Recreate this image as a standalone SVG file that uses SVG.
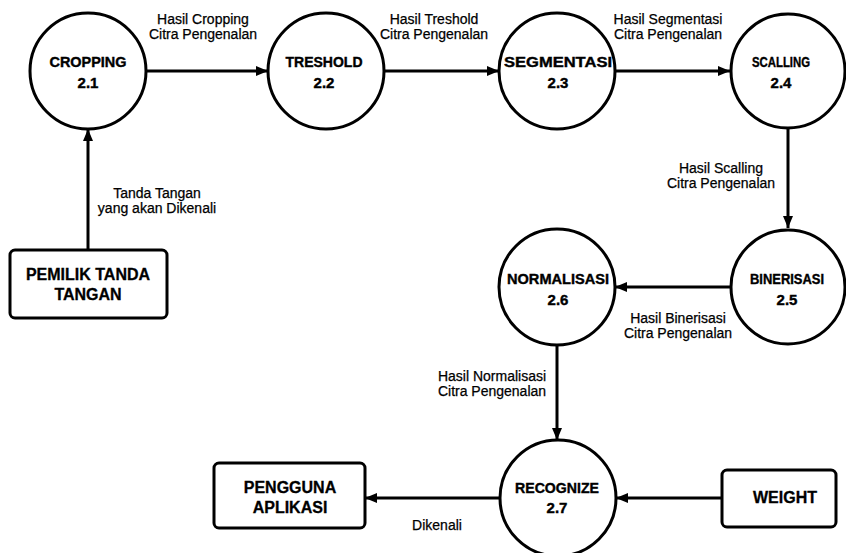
<svg xmlns="http://www.w3.org/2000/svg" width="846" height="553" viewBox="0 0 846 553">
  <style>
    .proc { fill: #fff; stroke: #000; stroke-width: 3; }
    .ent { fill: #fff; stroke: #000; stroke-width: 3; }
    .flow { fill: none; stroke: #000; stroke-width: 3; }
    .pt { font-family: "Liberation Sans", Arial, sans-serif; font-weight: bold; font-size: 15px; text-anchor: middle; fill: #000; stroke: #000; stroke-width: 0.4; }
    .et { font-family: "Liberation Sans", Arial, sans-serif; font-weight: bold; font-size: 16px; text-anchor: middle; fill: #000; stroke: #000; stroke-width: 0.3; }
    .lt { font-family: "Liberation Sans", Arial, sans-serif; font-size: 14px; text-anchor: middle; fill: #000; stroke: #000; stroke-width: 0.25; }
  </style>
  <defs>
    <marker id="arrow" viewBox="0 0 12 10" refX="12" refY="5" markerWidth="12" markerHeight="10" markerUnits="userSpaceOnUse" orient="auto">
      <path d="M0,0 L12,5 L0,10 Z" fill="#000"/>
    </marker>
  </defs>
  <rect width="846" height="553" fill="#fff"/>

  <!-- data flows -->
  <g id="connectors">
    <line class="flow" x1="146" y1="71" x2="268" y2="71" marker-end="url(#arrow)"/>
    <line class="flow" x1="384" y1="71" x2="499" y2="71" marker-end="url(#arrow)"/>
    <line class="flow" x1="615" y1="71" x2="730" y2="71" marker-end="url(#arrow)"/>
    <line class="flow" x1="788" y1="129" x2="788" y2="228" marker-end="url(#arrow)"/>
    <line class="flow" x1="730" y1="287" x2="615" y2="287" marker-end="url(#arrow)"/>
    <line class="flow" x1="557" y1="345" x2="557" y2="440" marker-end="url(#arrow)"/>
    <line class="flow" x1="500" y1="498" x2="365" y2="498" marker-end="url(#arrow)"/>
    <line class="flow" x1="722" y1="498" x2="616" y2="498" marker-end="url(#arrow)"/>
    <line class="flow" x1="88" y1="250" x2="88" y2="129" marker-end="url(#arrow)"/>

    <text class="lt" x="203" y="24">Hasil Cropping</text>
    <text class="lt" x="203" y="39">Citra Pengenalan</text>
    <text class="lt" x="434" y="24">Hasil Treshold</text>
    <text class="lt" x="434" y="39">Citra Pengenalan</text>
    <text class="lt" x="668" y="24">Hasil Segmentasi</text>
    <text class="lt" x="668" y="39">Citra Pengenalan</text>
    <text class="lt" x="721" y="173">Hasil Scalling</text>
    <text class="lt" x="721" y="188">Citra Pengenalan</text>
    <text class="lt" x="157" y="198">Tanda Tangan</text>
    <text class="lt" x="157" y="213">yang akan Dikenali</text>
    <text class="lt" x="678" y="323">Hasil Binerisasi</text>
    <text class="lt" x="678" y="338">Citra Pengenalan</text>
    <text class="lt" x="492" y="381">Hasil Normalisasi</text>
    <text class="lt" x="492" y="396">Citra Pengenalan</text>
    <text class="lt" x="437" y="530">Dikenali</text>
  </g>

  <!-- processes -->
  <g id="cropping">
    <circle class="proc" cx="88" cy="71" r="58"/>
    <text class="pt" x="88" y="67" textLength="77" lengthAdjust="spacingAndGlyphs">CROPPING</text>
    <text class="pt" x="88" y="88">2.1</text>
  </g>
  <g id="treshold">
    <circle class="proc" cx="326" cy="71" r="58"/>
    <text class="pt" x="324" y="67" textLength="77" lengthAdjust="spacingAndGlyphs">TRESHOLD</text>
    <text class="pt" x="324" y="88">2.2</text>
  </g>
  <g id="segmentasi">
    <circle class="proc" cx="557" cy="71" r="58"/>
    <text class="pt" x="558" y="67" textLength="108" lengthAdjust="spacingAndGlyphs">SEGMENTASI</text>
    <text class="pt" x="558" y="88">2.3</text>
  </g>
  <g id="scalling">
    <circle class="proc" cx="788" cy="71" r="57"/>
    <text class="pt" x="781" y="67" textLength="58" lengthAdjust="spacingAndGlyphs">SCALLING</text>
    <text class="pt" x="781" y="88">2.4</text>
  </g>
  <g id="binerisasi">
    <circle class="proc" cx="788" cy="287" r="57"/>
    <text class="pt" x="787" y="284" textLength="74" lengthAdjust="spacingAndGlyphs">BINERISASI</text>
    <text class="pt" x="787" y="305">2.5</text>
  </g>
  <g id="normalisasi">
    <circle class="proc" cx="557" cy="287" r="58"/>
    <text class="pt" x="558" y="284" textLength="102" lengthAdjust="spacingAndGlyphs">NORMALISASI</text>
    <text class="pt" x="558" y="305">2.6</text>
  </g>
  <g id="recognize">
    <circle class="proc" cx="558" cy="498" r="58"/>
    <text class="pt" x="557" y="493" textLength="84" lengthAdjust="spacingAndGlyphs">RECOGNIZE</text>
    <text class="pt" x="557" y="513">2.7</text>
  </g>

  <!-- external entities -->
  <g id="pemilik">
    <rect class="ent" x="10" y="250" width="157" height="68" rx="5"/>
    <text class="et" x="88" y="280">PEMILIK TANDA</text>
    <text class="et" x="88" y="300">TANGAN</text>
  </g>
  <g id="pengguna">
    <rect class="ent" x="214" y="463" width="151" height="65" rx="5"/>
    <text class="et" x="290" y="493">PENGGUNA</text>
    <text class="et" x="290" y="513">APLIKASI</text>
  </g>
  <g id="weight">
    <rect class="ent" x="722" y="470" width="114" height="57" rx="5"/>
    <text class="et" x="785" y="503">WEIGHT</text>
  </g>
</svg>
